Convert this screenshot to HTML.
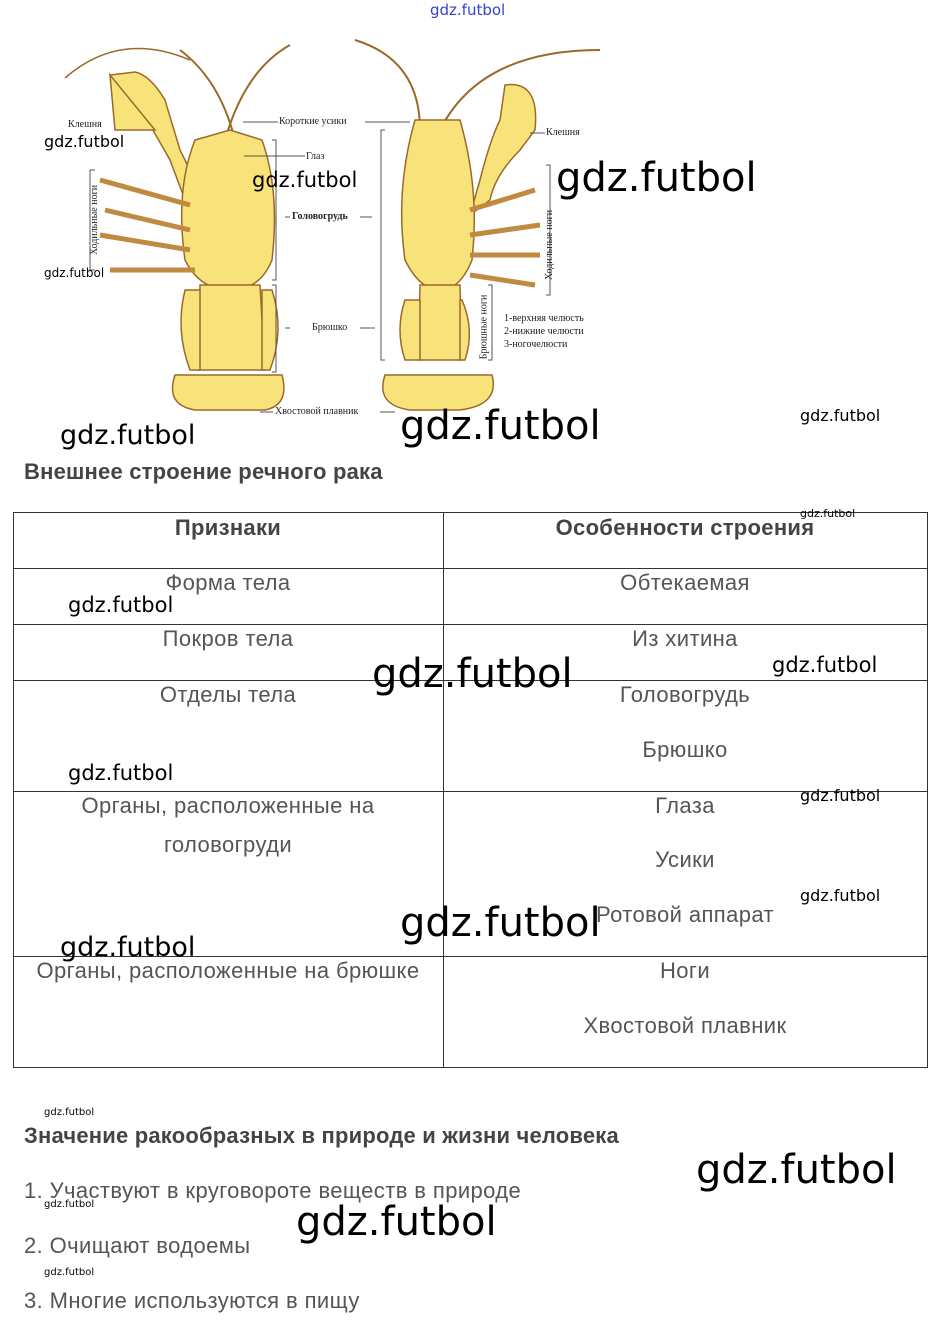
<!DOCTYPE html>
<html><head><meta charset="utf-8"><style>
body{margin:0;width:938px;height:1330px;background:#fff;position:relative;overflow:hidden;font-family:"Liberation Sans",sans-serif}
.t{position:absolute;white-space:nowrap;line-height:1;letter-spacing:0.4px}
.w{position:absolute;white-space:nowrap;line-height:1;color:#000;font-family:"DejaVu Sans","Liberation Sans",sans-serif}
.c{position:absolute;white-space:nowrap;line-height:1;color:#555;font-size:22px;letter-spacing:0.4px;transform:translateX(-50%)}
.h{position:absolute;white-space:nowrap;line-height:1;color:#444;font-size:22px;font-weight:bold;letter-spacing:0.3px;transform:translateX(-50%)}
.l{position:absolute;background:#333}
.s{font-family:"Liberation Serif",serif;font-size:10px;color:#222;position:absolute;white-space:nowrap;line-height:1}
</style></head><body>
<svg width="938" height="440" style="position:absolute;left:0;top:0">
<g fill="#f8e27a" stroke="#9a6a2a" stroke-width="1.5">
<path d="M65,78 Q120,30 190,60" fill="none"/>
<path d="M235,140 Q220,80 180,50" fill="none" stroke-width="2"/>
<path d="M225,140 Q245,70 290,45" fill="none" stroke-width="2"/>
<path d="M110,75 Q130,110 150,125 L170,160 L185,200 L195,180 L180,150 L165,100 Q150,75 135,72 Z"/>
<path d="M110,75 L115,130 L155,130 Z"/>
<path d="M195,140 Q175,190 185,260 Q200,290 230,290 Q260,290 272,260 Q280,190 262,140 L230,130 Z"/>
<path d="M200,285 L260,285 L265,370 L198,370 Z"/>
<path d="M185,290 Q175,330 190,370 L200,370 L200,290Z"/>
<path d="M272,290 Q285,330 270,370 L262,370 L262,290Z"/>
<path d="M175,375 Q165,405 195,410 L265,410 Q290,405 282,375 Z"/>
<path d="M100,180 L190,205 M105,210 L190,230 M100,235 L190,250 M110,270 L195,270" fill="none" stroke="#c08a40" stroke-width="5"/>
<path d="M355,40 Q420,60 420,130" fill="none" stroke-width="2"/>
<path d="M440,130 Q480,50 600,50" fill="none" stroke-width="2"/>
<path d="M505,85 Q540,80 535,130 L520,150 Q495,175 490,200 L470,215 L480,180 Q490,140 500,120 Z"/>
<path d="M415,120 Q395,190 405,260 Q420,290 440,290 Q460,290 472,260 Q480,190 460,120 Z"/>
<path d="M420,285 L460,285 L462,360 L418,360 Z"/>
<path d="M405,300 Q395,330 405,360 L420,360 L420,300Z"/>
<path d="M462,300 Q475,330 465,360 L460,360 L460,300Z"/>
<path d="M385,375 Q375,405 410,410 L460,410 Q500,405 492,375 Z"/>
<path d="M470,210 L535,190 M470,235 L540,225 M470,255 L540,255 M470,275 L535,285" fill="none" stroke="#c08a40" stroke-width="5"/>
</g>
<g stroke="#555" fill="none" stroke-width="1">
<path d="M243,122 L278,122 M365,122 L410,122 M244,156 L305,156 M285,217 L290,217 M360,217 L372,217 M285,328 L290,328 M360,328 L375,328 M260,412 L273,412 M380,412 L395,412 M530,133 L545,133"/>
<path d="M272,140 L276,140 L276,280 L272,280 M272,285 L276,285 L276,372 L272,372"/>
<path d="M385,130 L381,130 L381,360 L385,360"/>
<path d="M95,170 L90,170 L90,270 L95,270 M546,165 L550,165 L550,295 L546,295 M488,285 L492,285 L492,360 L488,360"/>
</g>
</svg>
<div class="s" style="left:68px;top:120px">Клешня</div>
<div class="s" style="left:279px;top:117px">Короткие усики</div>
<div class="s" style="left:306px;top:152px">Глаз</div>
<div class="s" style="left:292px;top:212px;font-weight:bold">Головогрудь</div>
<div class="s" style="left:312px;top:323px">Брюшко</div>
<div class="s" style="left:275px;top:407px">Хвостовой плавник</div>
<div class="s" style="left:546px;top:128px">Клешня</div>
<div class="s" style="left:504px;top:314px">1-верхняя челюсть</div>
<div class="s" style="left:504px;top:327px">2-нижние челюсти</div>
<div class="s" style="left:504px;top:340px">3-ногочелюсти</div>
<div class="s" style="left:60px;top:215px;transform:rotate(-90deg)">Ходильные ноги</div>
<div class="s" style="left:515px;top:240px;transform:rotate(-90deg)">Ходильные ноги</div>
<div class="s" style="left:452px;top:322px;transform:rotate(-90deg)">Брюшные ноги</div>

<div class="t" style="left:24px;top:461px;font-size:22px;font-weight:bold;color:#444;letter-spacing:0.2px">Внешнее строение речного рака</div>

<div class="l" style="left:13px;top:512px;width:915px;height:1px"></div>
<div class="l" style="left:13px;top:568px;width:915px;height:1px"></div>
<div class="l" style="left:13px;top:624px;width:915px;height:1px"></div>
<div class="l" style="left:13px;top:680px;width:915px;height:1px"></div>
<div class="l" style="left:13px;top:791px;width:915px;height:1px"></div>
<div class="l" style="left:13px;top:956px;width:915px;height:1px"></div>
<div class="l" style="left:13px;top:1067px;width:915px;height:1px"></div>
<div class="l" style="left:13px;top:512px;width:1px;height:556px"></div>
<div class="l" style="left:443px;top:512px;width:1px;height:556px"></div>
<div class="l" style="left:927px;top:512px;width:1px;height:556px"></div>

<div class="h" style="left:228px;top:517px">Признаки</div>
<div class="h" style="left:685px;top:517px">Особенности строения</div>
<div class="c" style="left:228px;top:572px">Форма тела</div>
<div class="c" style="left:685px;top:572px">Обтекаемая</div>
<div class="c" style="left:228px;top:628px">Покров тела</div>
<div class="c" style="left:685px;top:628px">Из хитина</div>
<div class="c" style="left:228px;top:684px">Отделы тела</div>
<div class="c" style="left:685px;top:684px">Головогрудь</div>
<div class="c" style="left:685px;top:739px">Брюшко</div>
<div class="c" style="left:228px;top:795px">Органы, расположенные на</div>
<div class="c" style="left:228px;top:834px">головогруди</div>
<div class="c" style="left:685px;top:795px">Глаза</div>
<div class="c" style="left:685px;top:849px">Усики</div>
<div class="c" style="left:685px;top:904px">Ротовой аппарат</div>
<div class="c" style="left:228px;top:960px">Органы, расположенные на брюшке</div>
<div class="c" style="left:685px;top:960px">Ноги</div>
<div class="c" style="left:685px;top:1015px">Хвостовой плавник</div>

<div class="t" style="left:24px;top:1125px;font-size:22px;font-weight:bold;color:#444;letter-spacing:0.2px">Значение ракообразных в природе и жизни человека</div>
<div class="t" style="left:24px;top:1180px;font-size:22px;color:#555">1. Участвуют в круговороте веществ в природе</div>
<div class="t" style="left:24px;top:1235px;font-size:22px;color:#555">2. Очищают водоемы</div>
<div class="t" style="left:24px;top:1290px;font-size:22px;color:#555">3. Многие используются в пищу</div>

<div class="w" style="left:430px;top:3px;font-size:15px;color:#3344cc">gdz.futbol</div>
<div class="w" style="left:44px;top:134px;font-size:16px">gdz.futbol</div>
<div class="w" style="left:252px;top:170px;font-size:21px">gdz.futbol</div>
<div class="w" style="left:556px;top:158px;font-size:40px">gdz.futbol</div>
<div class="w" style="left:44px;top:267px;font-size:12px">gdz.futbol</div>
<div class="w" style="left:60px;top:422px;font-size:27px">gdz.futbol</div>
<div class="w" style="left:400px;top:406px;font-size:40px">gdz.futbol</div>
<div class="w" style="left:800px;top:408px;font-size:16px">gdz.futbol</div>
<div class="w" style="left:800px;top:508px;font-size:11px">gdz.futbol</div>
<div class="w" style="left:68px;top:595px;font-size:21px">gdz.futbol</div>
<div class="w" style="left:372px;top:654px;font-size:40px">gdz.futbol</div>
<div class="w" style="left:772px;top:655px;font-size:21px">gdz.futbol</div>
<div class="w" style="left:68px;top:763px;font-size:21px">gdz.futbol</div>
<div class="w" style="left:800px;top:788px;font-size:16px">gdz.futbol</div>
<div class="w" style="left:800px;top:888px;font-size:16px">gdz.futbol</div>
<div class="w" style="left:400px;top:903px;font-size:40px">gdz.futbol</div>
<div class="w" style="left:60px;top:934px;font-size:27px">gdz.futbol</div>
<div class="w" style="left:44px;top:1108px;font-size:10px">gdz.futbol</div>
<div class="w" style="left:696px;top:1150px;font-size:40px">gdz.futbol</div>
<div class="w" style="left:44px;top:1200px;font-size:10px">gdz.futbol</div>
<div class="w" style="left:296px;top:1202px;font-size:40px">gdz.futbol</div>
<div class="w" style="left:44px;top:1268px;font-size:10px">gdz.futbol</div>
</body></html>
